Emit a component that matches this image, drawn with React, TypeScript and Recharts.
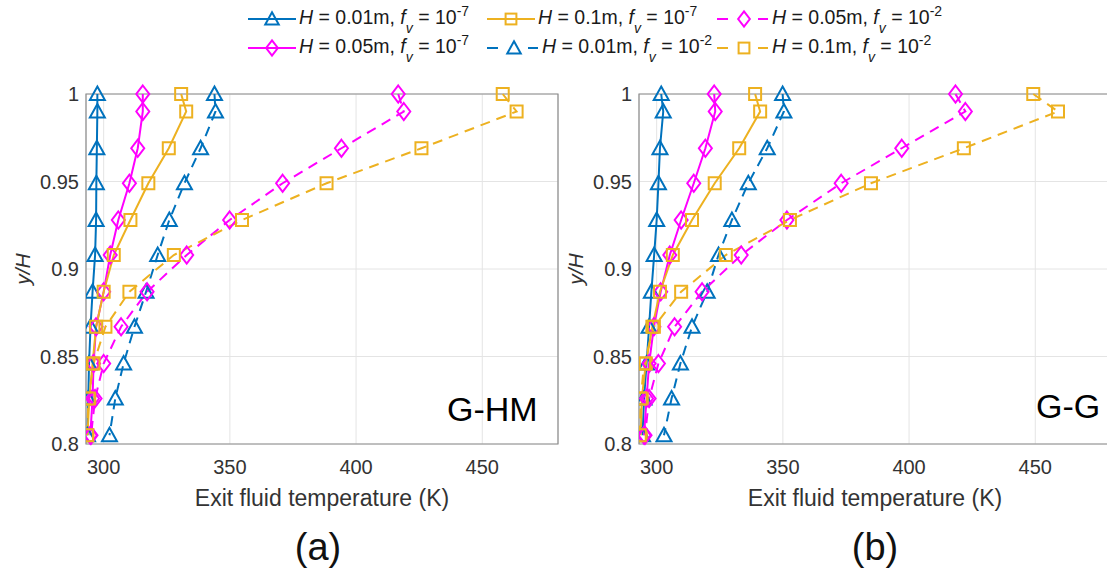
import React from 'react';
import { LineChart, Line, XAxis, YAxis, CartesianGrid, ReferenceArea } from 'recharts';

const FONT = '"Liberation Sans", Arial, Helvetica, sans-serif';

// y/H positions of the exit cells (shared by every series)
const Y_H = [1, 0.99, 0.969, 0.949, 0.928, 0.908, 0.887, 0.867, 0.846, 0.826, 0.805];

const X_TICKS = [300, 350, 400, 450];
const Y_TICKS = [0.8, 0.85, 0.9, 0.95, 1];

// (a) G-HM : exit fluid temperature (K)
const A_H001_F7 = [297.5, 297.5, 297.3, 297.1, 297, 296.6, 295.6, 294.8, 294.2, 293.9, 293.6];
const A_H005_F7 = [315.5, 315.5, 313.5, 310.2, 305.8, 302.6, 300, 297, 296, 295.6, 294.7];
const A_H01_F7 = [330.7, 332.7, 325.8, 317.7, 310.6, 304, 300, 297, 295.6, 294.3, 293.6];
const A_H001_F2 = [343.9, 344.3, 338.4, 332, 326, 321.4, 316.8, 312.2, 307.9, 304.6, 302.3];
const A_H005_F2 = [416.7, 418.9, 394.2, 370.9, 349.9, 332.9, 317.2, 306.9, 300, 296.6, 295];
const A_H01_F2 = [458.1, 463.6, 425.9, 388.3, 354.8, 327.8, 310.2, 300.7, 296, 294, 293.4];

// (b) G-G
const B_H001_F7 = [301.8, 302.6, 301.3, 300.7, 300, 299, 297.9, 297, 296, 295, 294.4];
const B_H005_F7 = [322.8, 323.2, 319.3, 314.7, 309.7, 305.2, 301.6, 298.9, 297, 296, 295];
const B_H01_F7 = [339, 341, 332.7, 323, 314, 306.4, 301.3, 298.3, 295.7, 294.1, 293.7];
const B_H001_F2 = [349.9, 350.4, 343.8, 336.3, 329.8, 324.5, 320, 314, 309.4, 305.9, 302.9];
const B_H005_F2 = [418.4, 422.3, 397.1, 373.1, 351.6, 333.5, 318, 307.1, 300.7, 297, 295.4];
const B_H01_F2 = [449.2, 459, 421.7, 384.9, 352.8, 327.4, 309.7, 298.9, 295, 293.7, 293.3];

const BLUE = '#0072BD';
const YELLOW = '#EDB120';
const MAGENTA = '#FF00FF';

type Kind = 'tri' | 'sq' | 'dia';

const SERIES = [
  { key: 'h001f7', kind: 'tri' as Kind, color: BLUE, dashed: false },
  { key: 'h005f7', kind: 'dia' as Kind, color: MAGENTA, dashed: false },
  { key: 'h01f7', kind: 'sq' as Kind, color: YELLOW, dashed: false },
  { key: 'h001f2', kind: 'tri' as Kind, color: BLUE, dashed: true },
  { key: 'h005f2', kind: 'dia' as Kind, color: MAGENTA, dashed: true },
  { key: 'h01f2', kind: 'sq' as Kind, color: YELLOW, dashed: true },
];

const PANEL_A: Record<string, number[]> = {
  h001f7: A_H001_F7, h005f7: A_H005_F7, h01f7: A_H01_F7,
  h001f2: A_H001_F2, h005f2: A_H005_F2, h01f2: A_H01_F2,
};
const PANEL_B: Record<string, number[]> = {
  h001f7: B_H001_F7, h005f7: B_H005_F7, h01f7: B_H01_F7,
  h001f2: B_H001_F2, h005f2: B_H005_F2, h01f2: B_H01_F2,
};

function Marker({ kind, cx, cy, color, s = 1 }: { kind: Kind; cx: number; cy: number; color: string; s?: number }) {
  const common = { fill: 'none', stroke: color, strokeWidth: 2 };
  if (kind === 'tri') {
    const w = 7.5 * s, t = 7.5 * s, b = 6 * s;
    return <polygon points={`${cx},${cy - t} ${cx + w},${cy + b} ${cx - w},${cy + b}`} {...common} />;
  }
  if (kind === 'sq') {
    const h = 6 * s;
    return <rect x={cx - h} y={cy - h} width={2 * h} height={2 * h} {...common} />;
  }
  const w = 6.5 * s, h = 8.5 * s;
  return <polygon points={`${cx},${cy - h} ${cx + w},${cy} ${cx},${cy + h} ${cx - w},${cy}`} {...common} />;
}

function Panel({ xs, left }: { xs: Record<string, number[]>; left: number }) {
  const tickStyle = { fill: '#333', fontSize: 20, fontFamily: FONT };
  return (
    <div style={{ position: 'absolute', left, top: 0 }}>
      <LineChart width={600} height={520} margin={{ top: 94, right: 42, left: 0, bottom: 0 }}>
        <CartesianGrid stroke="#e4e4e4" />
        <XAxis
          type="number"
          dataKey="x"
          domain={[293, 480]}
          ticks={X_TICKS}
          allowDataOverflow
          height={76}
          axisLine={false}
          tickLine={false}
          tickSize={6}
          tickMargin={10}
          tick={tickStyle}
          label={{ value: 'Exit fluid temperature (K)', position: 'insideBottom', offset: 14, fill: '#333', fontSize: 23, fontFamily: FONT }}
        />
        <YAxis
          type="number"
          dataKey="y"
          domain={[0.8, 1]}
          ticks={Y_TICKS}
          width={86}
          axisLine={false}
          tickLine={false}
          tickSize={4}
          tickMargin={3}
          tick={tickStyle}
          tickFormatter={(v: number) => String(v)}
          label={{
            value: 'y/H', angle: -90, position: 'insideLeft', offset: 23, fill: '#333',
            fontSize: 21, fontFamily: FONT, fontStyle: 'italic', style: { textAnchor: 'middle' },
          }}
        />
        <ReferenceArea x1={293} x2={480} y1={0.8} y2={1} fill="none" stroke="#8c8c8c" strokeWidth={1.2} ifOverflow="visible" />
        {SERIES.map((s) => (
          <Line
            key={s.key}
            data={Y_H.map((y, i) => ({ x: xs[s.key][i], y }))}
            dataKey="y"
            stroke={s.color}
            strokeWidth={2}
            strokeDasharray={s.dashed ? '10 7' : undefined}
            isAnimationActive={false}
            activeDot={false}
            dot={(p: any) => <Marker key={`${s.key}-${p.index}`} kind={s.kind} cx={p.cx} cy={p.cy} color={s.color} />}
          />
        ))}
      </LineChart>
    </div>
  );
}

function LegendItem({ x, y, kind, color, dashed, h, e }: { x: number; y: number; kind: Kind; color: string; dashed: boolean; h: string; e: string }) {
  const base = y + 5;
  const tx = x + 51;
  return (
    <g>
      {dashed ? (
        <>
          <line x1={x} x2={x + 11} y1={y} y2={y} stroke={color} strokeWidth={2} />
          <line x1={x + 41} x2={x + 51} y1={y} y2={y} stroke={color} strokeWidth={2} />
        </>
      ) : (
        <line x1={x} x2={x + 48} y1={y} y2={y} stroke={color} strokeWidth={2} />
      )}
      <Marker kind={kind} cx={x + (dashed ? 27 : 24)} cy={y} color={color} s={0.9} />
      <text x={dashed ? tx + 4 : tx} y={base} fontSize={19.5} fill="#1a1a1a" fontFamily={FONT} style={{ whiteSpace: 'pre' }}>
        <tspan fontStyle="italic">H</tspan>
        <tspan>{` = ${h}m, `}</tspan>
        <tspan fontStyle="italic">f</tspan>
        <tspan fontStyle="italic" fontSize={14} y={base + 9}>v</tspan>
        <tspan y={base}>{' = 10'}</tspan>
        <tspan fontSize={14} y={base - 8}>{e}</tspan>
      </text>
    </g>
  );
}

export default function App() {
  return (
    <div style={{ position: 'fixed', left: 0, top: 0, width: 1107, height: 571, overflow: 'hidden', background: '#fff', fontFamily: FONT }}>
      <Panel xs={PANEL_A} left={0} />
      <Panel xs={PANEL_B} left={553} />
      <div style={{ position: 'absolute', left: 447, top: 389, fontSize: 34, color: '#000', lineHeight: '40px' }}>G-HM</div>
      <div style={{ position: 'absolute', left: 1036, top: 386, fontSize: 34, color: '#000', lineHeight: '40px' }}>G-G</div>
      <div style={{ position: 'absolute', left: 218, width: 200, top: 524, textAlign: 'center', fontSize: 38, color: '#111', lineHeight: '46px' }}>(a)</div>
      <div style={{ position: 'absolute', left: 775, width: 200, top: 524, textAlign: 'center', fontSize: 38, color: '#111', lineHeight: '46px' }}>(b)</div>
      <svg width={1107} height={66} style={{ position: 'absolute', left: 0, top: 0, pointerEvents: 'none' }}>
        <LegendItem x={248} y={19} kind="tri" color={BLUE} dashed={false} h="0.01" e="-7" />
        <LegendItem x={487} y={19} kind="sq" color={YELLOW} dashed={false} h="0.1" e="-7" />
        <LegendItem x={717} y={19} kind="dia" color={MAGENTA} dashed h="0.05" e="-2" />
        <LegendItem x={248} y={48} kind="dia" color={MAGENTA} dashed={false} h="0.05" e="-7" />
        <LegendItem x={487} y={48} kind="tri" color={BLUE} dashed h="0.01" e="-2" />
        <LegendItem x={717} y={48} kind="sq" color={YELLOW} dashed h="0.1" e="-2" />
      </svg>
    </div>
  );
}
